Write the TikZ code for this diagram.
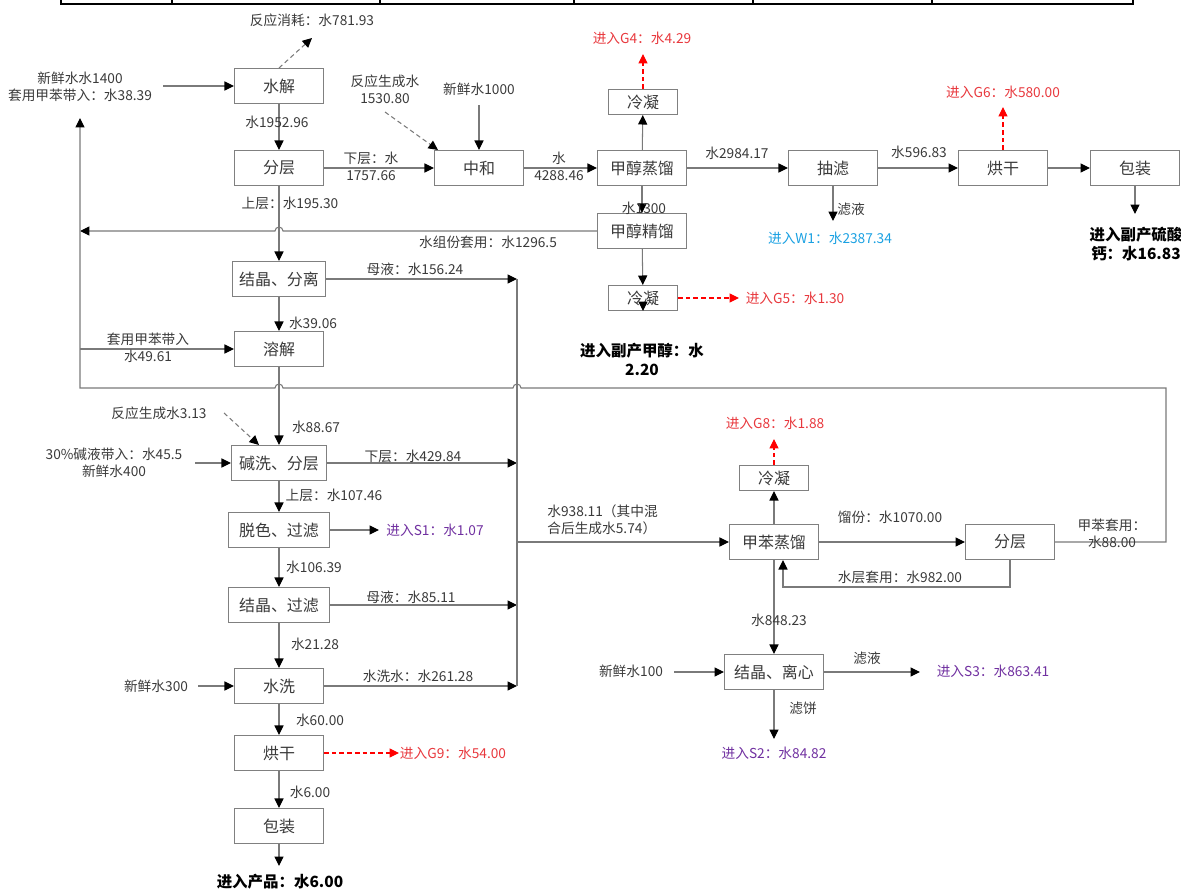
\documentclass[tikz,border=0pt]{standalone}
\usepackage{fontspec}
\setmainfont{Noto Sans CJK SC}
\usepackage{tikz}
\usetikzlibrary{arrows.meta, calc}
\definecolor{linegray}{HTML}{7A7A7A}
\definecolor{boxgray}{HTML}{808080}
\definecolor{textgray}{HTML}{3A3A3A}
\definecolor{gasred}{HTML}{E8383D}
\definecolor{solidpurple}{HTML}{7030A0}
\definecolor{wastecyan}{HTML}{1BA1E2}
\newcommand{\lblfont}{\fontsize{7.8pt}{9.6pt}\selectfont}
\newcommand{\boxfont}{\fontsize{9.1pt}{11pt}\selectfont}
\newcommand{\prodfont}{\fontsize{8.8pt}{10.8pt}\selectfont\bfseries}
\tikzset{
  % process unit box
  procbox/.style={draw=boxgray, fill=white, line width=0.6pt, minimum width=#1,
                  minimum height=0.70cm, inner sep=0pt, font=\boxfont, text=textgray},
  procbox/.default=1.78cm,
  % condenser, a smaller box
  condunit/.style={procbox=1.38cm, minimum height=0.50cm},
  % solid stream
  flow/.style={draw=linegray, line width=0.6pt,
               -{Triangle[length=5.4pt, width=5.2pt, color=black]}},
  flowline/.style={draw=linegray, line width=0.6pt},
  % reaction water (dashed)
  rxflow/.style={flow, dash pattern=on 2.6pt off 1.8pt},
  % to gas outlet (red dashed)
  gasflow/.style={draw=red, line width=0.6pt, dash pattern=on 2.6pt off 1.8pt,
                  -{Triangle[length=5.4pt, width=5.2pt]}},
  % texts
  lbl/.style={font=\lblfont, text=textgray, inner sep=0pt, align=center},
  gaslbl/.style={lbl, text=gasred},
  solidlbl/.style={lbl, text=solidpurple},
  wastelbl/.style={lbl, text=wastecyan},
  prodlbl/.style={lbl, font=\prodfont, text=black},
}

\begin{document}
\begin{tikzpicture}[x=0.02cm, y=-0.02cm]
  \useasboundingbox (0,0) rectangle (1181,889);
  % edge of the table above
  \draw[line width=1.3pt] (61,0) -- (61,4) -- (1133,4) -- (1133,0);
  \foreach \x in {172,380,574,753,932}
    \draw[line width=0.6pt] (\x,0) -- (\x,4);

  % units, top row
  \node[procbox] (hydro) at (279,86) {水解};
  \node[procbox] (sepA)  at (279,168) {分层};
  \node[procbox] (neut)  at (479,168) {中和};
  \node[procbox] (mdist) at (642,168) {甲醇蒸馏};
  \node[condunit] (condA) at (643,102) {冷凝};
  \node[procbox] (filt)  at (833,168) {抽滤};
  \node[procbox] (dryA)  at (1003,168) {烘干};
  \node[procbox] (packA) at (1135,168) {包装};
  \node[procbox] (mrect) at (642,231) {甲醇精馏};
  \node[condunit] (condB) at (643,298) {冷凝};
  % units, main column
  \node[procbox=1.86cm] (crysA) at (279,279) {结晶、分离};
  \node[procbox] (diss)  at (279,349) {溶解};
  \node[procbox=1.90cm] (alk) at (279,463) {碱洗、分层};
  \node[procbox=2.02cm] (decol) at (279,530) {脱色、过滤};
  \node[procbox=2.02cm] (crysB) at (279,605) {结晶、过滤};
  \node[procbox] (wash)  at (279,686) {水洗};
  \node[procbox] (dryB)  at (279,753) {烘干};
  \node[procbox] (packB) at (279,826) {包装};
  % units, toluene recovery
  \node[procbox] (tdist) at (774,542) {甲苯蒸馏};
  \node[condunit] (condC) at (774,478) {冷凝};
  \node[procbox] (sepB)  at (1010,542) {分层};
  \node[procbox=1.98cm] (crysC) at (774,672) {结晶、离心};

  % free ends of streams
  \coordinate (recyc)   at (80,118);
  \coordinate (colltop) at (517,279);
  \coordinate (collbot) at (517,686);
  \coordinate (loopx)   at (1166,388);
  \coordinate (retx)    at (783,587);
  \coordinate (in1)     at (163,86);
  \coordinate (consume) at (312,38);
  \coordinate (rx1)     at (385,112);
  \coordinate (fresh1)  at (479,105);
  \coordinate (g4)      at (643,54);
  \coordinate (g6)      at (1003,107);
  \coordinate (packout) at (1135,214);
  \coordinate (w1)      at (833,221);
  \coordinate (g5)      at (739,298);
  \coordinate (rx3)     at (224,413);
  \coordinate (in3)     at (195,463);
  \coordinate (s1)      at (379,530);
  \coordinate (in4)     at (198,686);
  \coordinate (g9)      at (399,753);
  \coordinate (prodout) at (279,866);
  \coordinate (g8)      at (774,439);
  \coordinate (in5)     at (674,672);
  \coordinate (s3)      at (920,672);
  \coordinate (s2)      at (774,739);

  % top row streams
  \draw[flow] (in1) -- (hydro.west);
  \draw[rxflow] (hydro.north) -- (consume);
  \draw[flow] (sepA) -- (neut);
  \draw[rxflow] (rx1) -- ($(neut.north west)+(4,0)$);
  \draw[flow] (fresh1) -- (neut.north);
  \draw[flow] (neut) -- (mdist);
  \draw[flow] (mdist) -- (condA);
  \draw[gasflow] (condA.north) -- (g4);
  \draw[flow] (mdist) -- (filt);
  \draw[flow] (filt) -- (dryA);
  \draw[flow] (dryA) -- (packA);
  \draw[gasflow] (dryA.north) -- (g6);
  \draw[flow] (packA.south) -- (packout);
  \draw[flow] (filt.south) -- (w1);
  \draw[flow] (mdist) -- (mrect);
  \draw[flow] (mrect) -- (condB);
  \draw[gasflow] (condB.east) -- (g5);
  \draw[flow] ($(condB.south)+(0,-8)$) -- (condB.south);
  % water fraction back to the left, jumps the main column
  \draw[flow] (mrect.west) -- (283,231) arc[start angle=0, end angle=-180, radius=4]
    -- (mrect.west -| recyc);

  % main column
  \foreach \a/\b in {hydro/sepA, sepA/crysA, crysA/diss, diss/alk, alk/decol,
                     decol/crysB, crysB/wash, wash/dryB, dryB/packB}
    \draw[flow] (\a) -- (\b);
  \draw[flow] (packB.south) -- (prodout);
  \draw[flow] (diss.west -| recyc) -- (diss.west);
  \draw[rxflow] (rx3) -- ($(alk.north west)+(28,0)$);
  \draw[flow] (in3) -- (alk.west);
  \draw[flow] (decol.east) -- (s1);
  \draw[flow] (in4) -- (wash.west);
  \draw[gasflow] (dryB.east) -- (g9);

  % liquors to the collector
  \foreach \n in {crysA, alk, crysB, wash}
    \draw[flow] (\n.east) -- (\n.east -| colltop);
  \draw[flowline] (colltop) -- (collbot);
  \draw[flow] (tdist.west -| colltop) -- (tdist.west);

  % toluene recovery
  \draw[flow] (tdist) -- (condC);
  \draw[gasflow] (condC.north) -- (g8);
  \draw[flow] (tdist) -- (sepB);
  \draw[flow] (sepB.south) -- (sepB.south |- retx) -- (retx) -- (tdist.south -| retx);
  \draw[flow] (tdist) -- (crysC);
  \draw[flow] (in5) -- (crysC.west);
  \draw[flow] (crysC.east) -- (s3);
  \draw[flow] (crysC.south) -- (s2);
  % toluene reuse, jumps the collector and the main column
  \draw[flow] (sepB.east) -- (sepB.east -| loopx) -- (loopx)
    -- (521,388) arc[start angle=0, end angle=-180, radius=4]
    -- (283,388) arc[start angle=0, end angle=-180, radius=4]
    -- (recyc |- loopx) -- (recyc);

  % labels, top row
  \node[lbl] (lconsume) at (312,20) {反应消耗：水781.93};
  \node[lbl] (lin1) at (80,86.5) {新鲜水水1400\\套用甲苯带入：水38.39};
  \node[lbl] (lhydro) at (277,122) {水1952.96};
  \node[lbl] (llow) at (371,166.5) {下层：水\\1757.66};
  \node[lbl] (lrx1) at (385,89) {反应生成水\\1530.80};
  \node[lbl] (lfresh1) at (479,89) {新鲜水1000};
  \node[lbl] (lneut) at (559,166.5) {水\\4288.46};
  \node[gaslbl] (lg4) at (642,38) {进入G4：水4.29};
  \node[lbl] (lmdist) at (737,153) {水2984.17};
  \node[lbl] (lfilt) at (919,152) {水596.83};
  \node[gaslbl] (lg6) at (1003,92) {进入G6：水580.00};
  \node[prodlbl] (lcas) at (1136,244) {进入副产硫酸\\钙：水16.83};
  \node[lbl] (lfiltrate) at (851,209) {滤液};
  \node[wastelbl] (lw1) at (830,238) {进入W1：水2387.34};
  \node[lbl] (lm1300) at (644,208) {水1300};
  \node[lbl] (lreuse) at (488,242) {水组份套用：水1296.5};
  \node[gaslbl] (lg5) at (795,298) {进入G5：水1.30};
  \node[prodlbl] (lmeoh) at (642,359) {进入副产甲醇：水\\2.20};
  % labels, main column
  \node[lbl] (lupper) at (290,203) {上层：水195.30};
  \node[lbl] (lml1) at (415,269) {母液：水156.24};
  \node[lbl] (lcrysA) at (313,323) {水39.06};
  \node[lbl] (ltol) at (148,348) {套用甲苯带入\\水49.61};
  \node[lbl] (lrx3) at (159,413) {反应生成水3.13};
  \node[lbl] (ldiss) at (316,427) {水88.67};
  \node[lbl] (lin3) at (114,463) {30\%碱液带入：水45.5\\新鲜水400};
  \node[lbl] (llow2) at (413,456) {下层：水429.84};
  \node[lbl] (lupper2) at (334,495) {上层：水107.46};
  \node[solidlbl] (ls1) at (435,530) {进入S1：水1.07};
  \node[lbl] (ldecol) at (314,567) {水106.39};
  \node[lbl] (lml2) at (411,597) {母液：水85.11};
  \node[lbl] (lcrysB) at (315,644) {水21.28};
  \node[lbl] (lin4) at (156,686) {新鲜水300};
  \node[lbl] (lwash) at (418,676) {水洗水：水261.28};
  \node[lbl] (lwashout) at (320,720) {水60.00};
  \node[gaslbl] (lg9) at (453,753) {进入G9：水54.00};
  \node[lbl] (ldry) at (310,792) {水6.00};
  \node[prodlbl] (lprod) at (280,882) {进入产品：水6.00};
  % labels, toluene recovery
  \node[lbl, align=left, anchor=west] (lcoll) at (547,520) {水938.11（其中混\\合后生成水5.74）};
  \node[gaslbl] (lg8) at (775,423) {进入G8：水1.88};
  \node[lbl] (ldist) at (890,517) {馏份：水1070.00};
  \node[lbl] (ltolreuse) at (1112,533.5) {甲苯套用：\\水88.00};
  \node[lbl] (laq) at (900,577) {水层套用：水982.00};
  \node[lbl] (ltdist) at (779,620) {水848.23};
  \node[lbl] (lin5) at (631,671) {新鲜水100};
  \node[lbl] (lfiltrate2) at (867,658) {滤液};
  \node[solidlbl] (ls3) at (993,671) {进入S3：水863.41};
  \node[lbl] (lcake) at (803,708) {滤饼};
  \node[solidlbl] (ls2) at (774,753) {进入S2：水84.82};
\end{tikzpicture}
\end{document}
